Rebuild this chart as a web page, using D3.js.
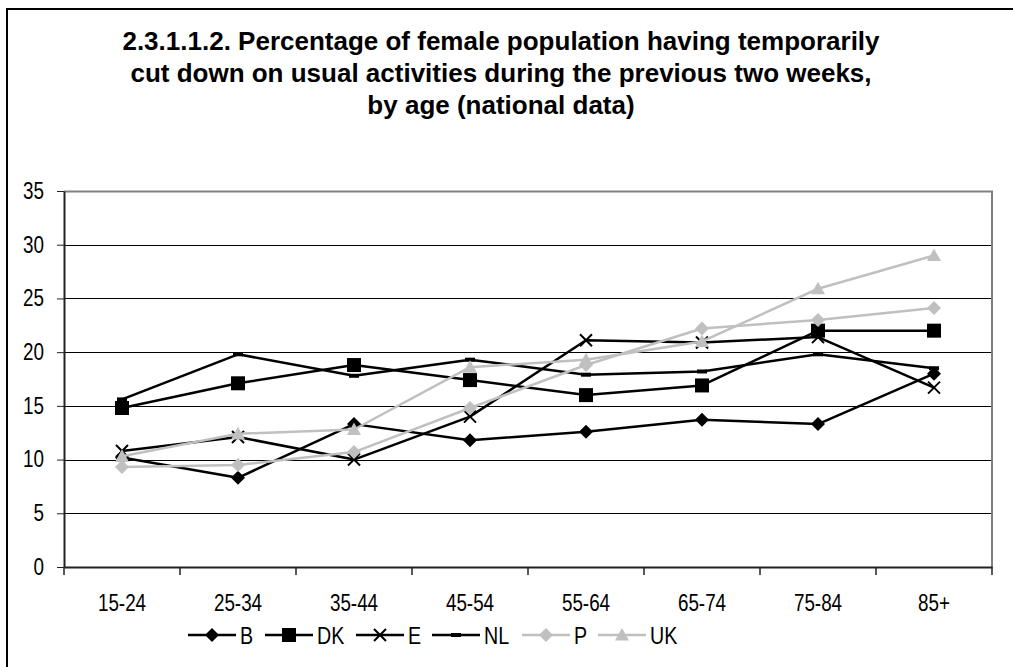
<!DOCTYPE html>
<html>
<head>
<meta charset="utf-8">
<script src="https://cdn.jsdelivr.net/npm/d3@7"></script>
<style>
  html, body { margin: 0; padding: 0; background: #fff; overflow: hidden; }
  svg { display: block; }
</style>
</head>
<body>
<div id="chart"></div>
<script>
// categories and series
const ageGroups = ["15-24", "25-34", "35-44", "45-54", "55-64", "65-74", "75-84", "85+"];
const valuesB  = [10.2, 8.3, 13.3, 11.8, 12.6, 13.7, 13.3, 18.0];
const valuesDK = [14.8, 17.1, 18.8, 17.4, 16.0, 16.9, 22.0, 22.0];
const valuesE  = [10.8, 12.1, 10.0, 14.0, 21.1, 20.9, 21.4, 16.7];
const valuesNL = [15.6, 19.8, 17.8, 19.3, 17.9, 18.2, 19.8, 18.5];
const valuesP  = [9.3, 9.5, 10.7, 14.8, 18.8, 22.2, 23.0, 24.1];
const valuesUK = [10.3, 12.4, 12.8, 18.6, 19.3, 21.0, 25.9, 29.0];
const seriesNames = ["B", "DK", "E", "NL", "P", "UK"];
const yTicks = [0, 5, 10, 15, 20, 25, 30, 35];
const titleLines = [
  "2.3.1.1.2. Percentage of female population having temporarily",
  "cut down on usual activities during the previous two weeks,",
  "by age (national data)"
];

const width = 1013, height = 667;
const margin = {top: 191, right: 21, bottom: 100, left: 64};
const plotW = width - margin.left - margin.right;
const plotH = height - margin.top - margin.bottom;

// no Arial Narrow here: squeeze Liberation Sans horizontally instead
const sans = "'Liberation Sans', Arial, sans-serif";
const squeeze = 0.82;
const grey = "#c0c0c0";

const seriesValues = [valuesB, valuesDK, valuesE, valuesNL, valuesP, valuesUK];
const seriesStyle = {
  B:  {color: "#000", marker: "diamond", size: 14},
  DK: {color: "#000", marker: "square", size: 14},
  E:  {color: "#000", marker: "cross", size: 12},
  NL: {color: "#000", marker: "dash", size: 10},
  P:  {color: grey, marker: "diamond", size: 14},
  UK: {color: grey, marker: "triangle", size: 14}
};

function markerPath(type, s) {
  const h = s / 2;
  if (type === "diamond") return `M0,${-h}L${h},0L0,${h}L${-h},0Z`;
  if (type === "square") return `M${-h},${-h}H${h}V${h}H${-h}Z`;
  if (type === "triangle") return `M0,${-h}L${h},${h * 0.8}L${-h},${h * 0.8}Z`;
  if (type === "cross") return `M${-h},${-h}L${h},${h}M${h},${-h}L${-h},${h}`;
  if (type === "dash") return `M${-h},-2H${h}V2H${-h}Z`;
  return "";
}

function narrowText(sel, size) {
  sel.attr("font-family", sans)
    .attr("font-size", size)
    .attr("fill", "#000")
    .each(function() {
      const t = d3.select(this);
      const x0 = +t.attr("x") || 0;
      t.attr("x", x0 / squeeze).attr("transform", "scale(" + squeeze + ",1)");
    });
}

const svg = d3.select("#chart").append("svg")
  .attr("width", width)
  .attr("height", height);

// outer chart frame (runs past the window on right and bottom)
svg.append("rect")
  .attr("x", 7).attr("y", 9)
  .attr("width", width + 20).attr("height", height + 20)
  .attr("fill", "#fff")
  .attr("stroke", "#000")
  .attr("stroke-width", 2);

// title
svg.append("g").selectAll("text")
  .data(titleLines)
  .enter().append("text")
  .attr("x", 501)
  .attr("y", (d, i) => 50 + i * 32)
  .attr("text-anchor", "middle")
  .attr("font-family", sans)
  .attr("font-weight", "bold")
  .attr("font-size", "26px")
  .text(d => d);

const x = d3.scaleBand().domain(ageGroups).range([0, plotW]);
const y = d3.scaleLinear().domain([0, 35]).range([plotH, 0]);

const g = svg.append("g")
  .attr("transform", "translate(" + margin.left + "," + margin.top + ")");

// gridlines
g.append("g").selectAll("line")
  .data(yTicks.filter(d => d > 0 && d < 35))
  .enter().append("line")
  .attr("x1", 0).attr("x2", plotW)
  .attr("y1", d => Math.round(y(d)) + 0.5)
  .attr("y2", d => Math.round(y(d)) + 0.5)
  .attr("stroke", "#000")
  .attr("stroke-width", 1);

// plot frame top and right (grey)
g.append("path")
  .attr("d", `M0,0.5H${plotW}V${plotH}`)
  .attr("fill", "none")
  .attr("stroke", "#808080")
  .attr("stroke-width", 2);

// y axis
const yAxis = g.append("g")
  .call(d3.axisLeft(y).tickValues(yTicks).tickSize(7).tickPadding(13).tickSizeOuter(0));
yAxis.select(".domain").attr("stroke", "#222").attr("stroke-width", 2);
yAxis.selectAll(".tick line").attr("stroke", "#222").attr("stroke-width", 1);
narrowText(yAxis.selectAll("text"), "23px");

// x axis: ticks between categories
const xAxis = g.append("g")
  .attr("transform", "translate(0," + plotH + ")")
  .call(d3.axisBottom(x).tickSize(0).tickPadding(28).tickSizeOuter(0));
xAxis.select(".domain").attr("stroke", "#222").attr("stroke-width", 2);
narrowText(xAxis.selectAll("text"), "23px");
xAxis.append("g").selectAll("line")
  .data(ageGroups.map(d => x(d)).concat([plotW]))
  .enter().append("line")
  .attr("x1", d => d).attr("x2", d => d)
  .attr("y1", 0).attr("y2", 8)
  .attr("stroke", "#222")
  .attr("stroke-width", 1.5);

// series lines and markers
const line = d3.line()
  .x((d, i) => x(ageGroups[i]) + x.bandwidth() / 2)
  .y(d => y(d));

seriesNames.forEach((name, k) => {
  const st = seriesStyle[name];
  const vals = seriesValues[k];
  const sg = g.append("g").attr("class", "series-" + name);
  sg.append("path")
    .attr("d", line(vals))
    .attr("fill", "none")
    .attr("stroke", st.color)
    .attr("stroke-width", 2.5)
    .attr("stroke-linejoin", "round");
  sg.selectAll("path.marker")
    .data(vals)
    .enter().append("path")
    .attr("class", "marker")
    .attr("transform", (d, i) => "translate(" + (x(ageGroups[i]) + x.bandwidth() / 2) + "," + y(d) + ")")
    .attr("d", markerPath(st.marker, st.size))
    .attr("fill", st.marker === "cross" ? "none" : st.color)
    .attr("stroke", st.marker === "cross" ? st.color : "none")
    .attr("stroke-width", 2);
});

// legend
const legendX = [188, 265, 356, 432, 522, 598];
const legend = svg.append("g").attr("transform", "translate(0,635)");
seriesNames.forEach((name, k) => {
  const st = seriesStyle[name];
  const lg = legend.append("g").attr("transform", "translate(" + legendX[k] + ",0)");
  lg.append("line")
    .attr("x1", 0).attr("x2", 48)
    .attr("y1", 0).attr("y2", 0)
    .attr("stroke", st.color)
    .attr("stroke-width", 2.5);
  lg.append("path")
    .attr("transform", "translate(24,0)")
    .attr("d", markerPath(st.marker, st.size))
    .attr("fill", st.marker === "cross" ? "none" : st.color)
    .attr("stroke", st.marker === "cross" ? st.color : "none")
    .attr("stroke-width", 2);
  lg.append("text")
    .attr("x", 52)
    .attr("y", 9)
    .text(name)
    .call(narrowText, "24px");
});
</script>
</body>
</html>
